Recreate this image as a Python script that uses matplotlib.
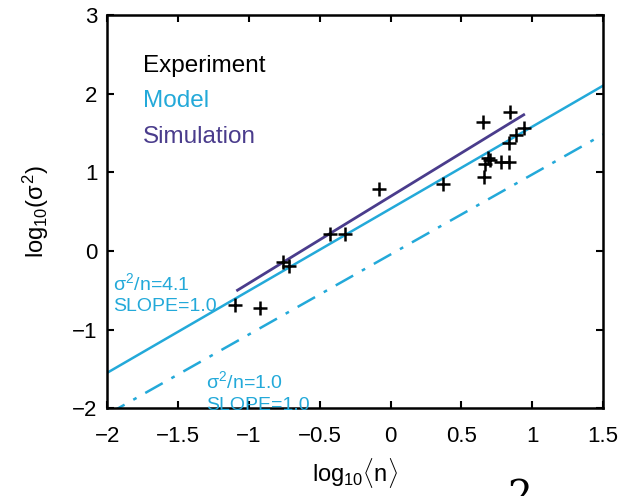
import numpy as np
import matplotlib
matplotlib.use('Agg')
import matplotlib.pyplot as plt

plt.rcParams['font.family'] = ['Liberation Sans', 'DejaVu Sans']
plt.rcParams['mathtext.fontset'] = 'custom'
plt.rcParams['mathtext.rm'] = 'Liberation Sans'
plt.rcParams['mathtext.it'] = 'Liberation Sans'

# experiment points
exp_x = [-1.10, -0.92, -0.76, -0.72, -0.43, -0.32, -0.08, 0.37,
         0.65, 0.66, 0.67, 0.69, 0.70, 0.78, 0.835, 0.835, 0.846, 0.887, 0.94]
exp_y = [-0.69, -0.72, -0.14, -0.19, 0.22, 0.22, 0.79, 0.85,
         1.64, 0.94, 1.10, 1.18, 1.15, 1.13, 1.13, 1.37, 1.77, 1.47, 1.56]

# model lines (sigma^2/n = 4.1 and 1.0), endpoints
model_x = [-2.0, 1.5]
model_y = [-1.55, 2.10]
poisson_x = [-2.0, 1.5]
poisson_y = [-2.08, 1.48]

# simulation line
sim_x = [-1.08, 0.94]
sim_y = [-0.50, 1.73]

cyan = '#23a9d9'
purple = '#4a3c8c'

fig = plt.figure(figsize=(6.23, 4.96), dpi=100)
ax = fig.add_axes([0.172, 0.177, 0.796, 0.793])

ax.plot(poisson_x, poisson_y, color=cyan, lw=1.8, ls=(0, (8, 4, 1.5, 4)))
ax.plot(model_x, model_y, color=cyan, lw=1.8)
ax.plot(sim_x, sim_y, color=purple, lw=2.0)
ax.plot(exp_x, exp_y, ls='none', marker='+', ms=10, mew=1.8, color='black')

ax.set_xlim(-2, 1.5)
ax.set_ylim(-2, 3)
ax.set_xticks([-2, -1.5, -1, -0.5, 0, 0.5, 1, 1.5])
ax.set_xticklabels(['\u22122', '\u22121.5', '\u22121', '\u22120.5', '0', '0.5', '1', '1.5'])
ax.set_yticks([-2, -1, 0, 1, 2, 3])
ax.set_yticklabels(['\u22122', '\u22121', '0', '1', '2', '3'])
ax.tick_params(direction='in', top=True, right=True, length=5, width=1.5,
               labelsize=16)
ax.tick_params(axis='x', pad=13)
ax.tick_params(axis='y', pad=7)
for s in ax.spines.values():
    s.set_linewidth(1.8)

ax.set_xlabel(r'log$_{10}$$\langle$n$\rangle$', fontsize=17, labelpad=6)
ax.set_ylabel(r'log$_{10}$($\sigma^2$)', fontsize=17, labelpad=15)

# legend as coloured text
ax.text(-1.745, 2.27, 'Experiment', color='black', fontsize=17.5)
ax.text(-1.745, 1.83, 'Model', color=cyan, fontsize=17.5)
ax.text(-1.745, 1.37, 'Simulation', color=purple, fontsize=17.5)

# annotations
ax.text(-1.96, -0.50, r'$\sigma^2$/n=4.1', color=cyan, fontsize=14)
ax.text(-1.96, -0.76, 'SLOPE=1.0', color=cyan, fontsize=14)
ax.text(-1.30, -1.75, r'$\sigma^2$/n=1.0', color=cyan, fontsize=14)
ax.text(-1.30, -2.02, 'SLOPE=1.0', color=cyan, fontsize=14, clip_on=False)

# stray panel number from the page, cut off at the bottom
fig.text(0.815, -0.025, '2', fontsize=28, family='DejaVu Serif')

fig.savefig('out.png', dpi=100)
